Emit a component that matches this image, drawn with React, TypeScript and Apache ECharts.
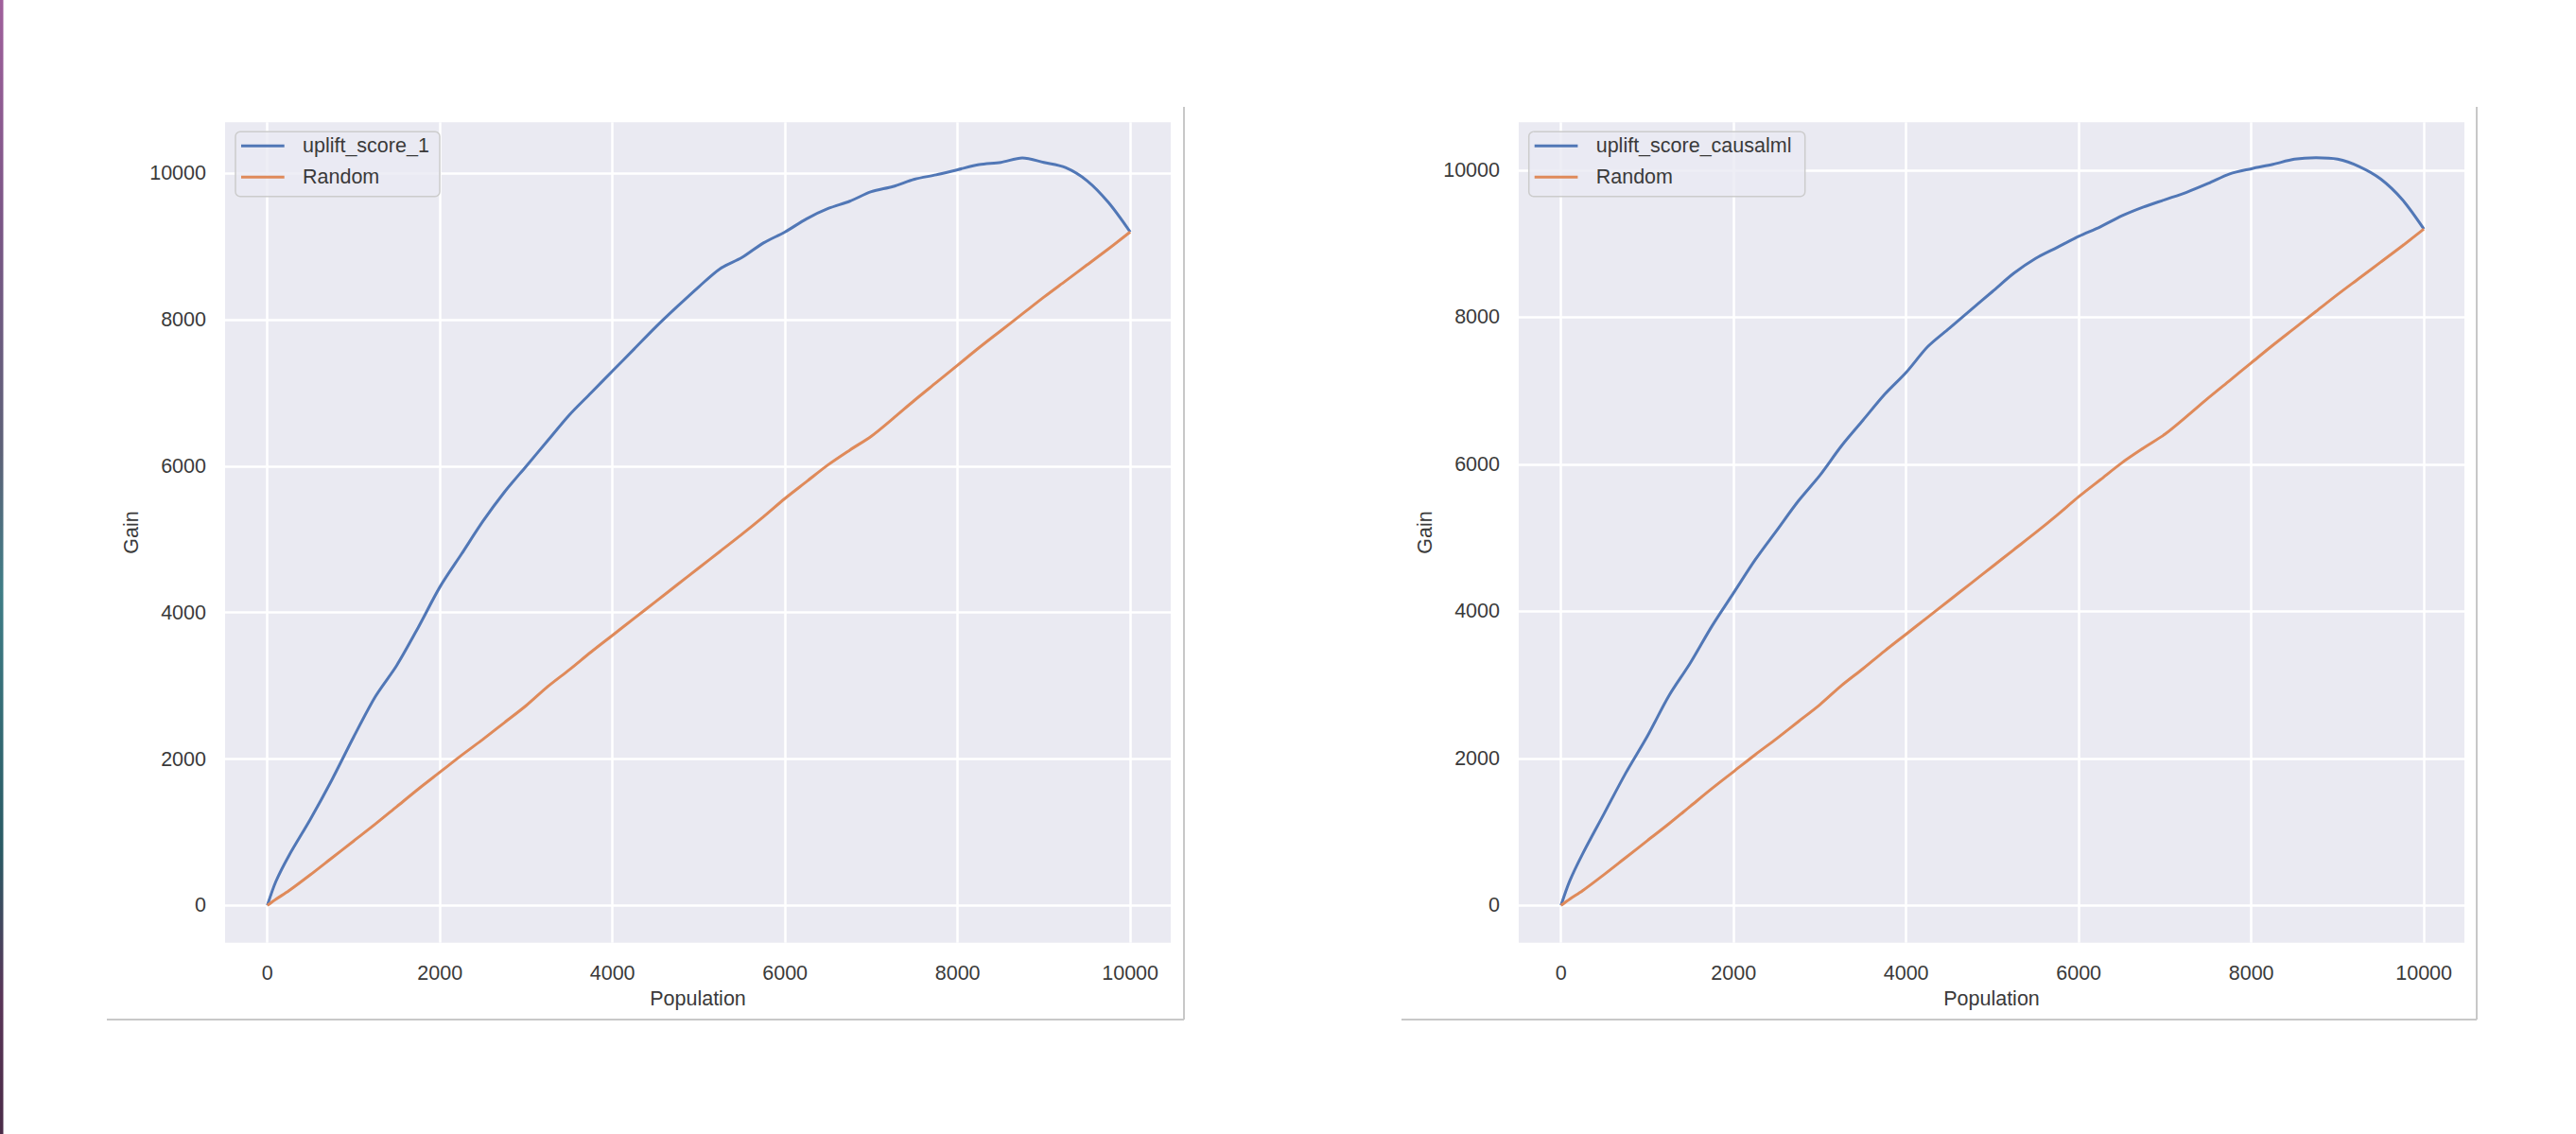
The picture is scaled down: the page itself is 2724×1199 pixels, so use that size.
import React, { useEffect, useRef } from "react";
import * as echarts from "echarts";

const POPULATION = [0, 100, 250, 500, 750, 1000, 1250, 1500, 1750, 2000, 2250, 2500, 2750, 3000, 3250, 3500, 3750, 4000, 4250, 4500, 4750, 5000, 5250, 5500, 5750, 6000, 6250, 6500, 6750, 7000, 7250, 7500, 7750, 8000, 8250, 8500, 8750, 9000, 9250, 9500, 9750, 10000];
const GAIN_UPLIFT_1 = [0, 330, 680, 1180, 1720, 2300, 2850, 3280, 3800, 4350, 4800, 5250, 5650, 6000, 6350, 6700, 7000, 7300, 7600, 7900, 8180, 8450, 8700, 8850, 9050, 9200, 9380, 9520, 9620, 9750, 9820, 9920, 9980, 10050, 10120, 10150, 10210, 10150, 10080, 9900, 9600, 9200];
const GAIN_UPLIFT_CAUSALML = [0, 330, 700, 1250, 1800, 2300, 2850, 3300, 3800, 4250, 4700, 5100, 5500, 5850, 6250, 6600, 6950, 7250, 7600, 7850, 8100, 8350, 8600, 8800, 8950, 9100, 9230, 9380, 9500, 9600, 9700, 9820, 9950, 10020, 10080, 10150, 10170, 10150, 10050, 9880, 9600, 9200];
const GAIN_RANDOM = [0, 85, 200, 420, 650, 880, 1110, 1350, 1590, 1820, 2050, 2270, 2500, 2730, 2990, 3220, 3460, 3690, 3920, 4150, 4380, 4610, 4840, 5070, 5310, 5560, 5790, 6020, 6220, 6410, 6650, 6900, 7140, 7380, 7620, 7850, 8080, 8310, 8530, 8750, 8970, 9200];
const X_TICKS = [0, 2000, 4000, 6000, 8000, 10000];
const Y_TICKS = [0, 2000, 4000, 6000, 8000, 10000];
const SERIES_NAMES_LEFT = ["uplift_score_1", "Random"];
const SERIES_NAMES_RIGHT = ["uplift_score_causalml", "Random"];

const BLUE = "#5177b6";
const ORANGE = "#df8a5a";
const TEXT = "#3a3a3a";
const FONT = "'Liberation Sans', Arial, Helvetica, sans-serif";
const FS = 21.5;

function pairs(xs: number[], ys: number[]) {
  return xs.map((x, i) => [x, ys[i]]);
}

export default function App() {
  const ref = useRef<HTMLDivElement>(null);
  useEffect(() => {
    if (!ref.current) return;
    const chart = echarts.init(ref.current, null, { renderer: "svg" });

    const grids = [
      { left: 238, top: 129.3, width: 1000, height: 867.4, show: true, backgroundColor: "#eaeaf2", borderWidth: 0 },
      { left: 1606, top: 129.3, width: 1000, height: 867.4, show: true, backgroundColor: "#eaeaf2", borderWidth: 0 },
    ];
    const yRanges = [
      [-509, 10698],
      [-507, 10652],
    ];

    const xAxes = [0, 1].map((g) => ({
      type: "value",
      gridIndex: g,
      min: -490,
      max: 10470,
      name: "Population",
      nameLocation: "middle",
      nameGap: 46,
      nameTextStyle: { fontFamily: FONT, fontSize: FS, color: TEXT },
      axisLine: { show: false },
      axisTick: { show: false },
      splitLine: { show: false },
      axisLabel: {
        customValues: X_TICKS,
        formatter: (v: number) => String(v),
        margin: 21,
        fontFamily: FONT,
        fontSize: FS,
        color: TEXT,
      },
    }));
    const yAxes = [0, 1].map((g) => ({
      type: "value",
      gridIndex: g,
      min: yRanges[g][0],
      max: yRanges[g][1],
      name: "Gain",
      nameLocation: "middle",
      nameRotate: 90,
      nameGap: 88,
      nameTextStyle: { fontFamily: FONT, fontSize: FS, color: TEXT },
      axisLine: { show: false },
      axisTick: { show: false },
      splitLine: { show: false },
      axisLabel: {
        customValues: Y_TICKS,
        formatter: (v: number) => String(v),
        margin: 20,
        fontFamily: FONT,
        fontSize: FS,
        color: TEXT,
      },
    }));

    const gridSeries = [0, 1].map((g) => ({
      type: "line",
      name: "grid" + g,
      xAxisIndex: g,
      yAxisIndex: g,
      data: [[0, 0]],
      symbol: "none",
      lineStyle: { opacity: 0 },
      silent: true,
      z: 1,
      markLine: {
        silent: true,
        z: 1,
        symbol: ["none", "none"],
        label: { show: false },
        lineStyle: { color: "#ffffff", width: 2.5, type: "solid" },
        emphasis: { disabled: true },
        data: [
          ...X_TICKS.map((v) => ({ xAxis: v })),
          ...Y_TICKS.map((v) => ({ yAxis: v })),
        ],
      },
    }));

    const mk = (name: string, g: number, ys: number[], color: string) => ({
      type: "line",
      name,
      xAxisIndex: g,
      yAxisIndex: g,
      data: pairs(POPULATION, ys),
      symbol: "none",
      smooth: 0.3,
      lineStyle: { color, width: 3 },
      itemStyle: { color },
      z: 3,
    });

    const legend = (x: number, w: number, names: string[]) => ({
      type: "group",
      children: [
        {
          type: "rect",
          shape: { x, y: 139.3, width: w, height: 68.4, r: 5 },
          style: { fill: "rgba(234,234,242,0.8)", stroke: "#cccccc", lineWidth: 1.5 },
          z: 10,
        },
        {
          type: "line",
          shape: { x1: x + 6, y1: 154.3, x2: x + 51.7, y2: 154.3 },
          style: { stroke: BLUE, lineWidth: 3 },
          z: 11,
        },
        {
          type: "line",
          shape: { x1: x + 6, y1: 187.3, x2: x + 51.7, y2: 187.3 },
          style: { stroke: ORANGE, lineWidth: 3 },
          z: 11,
        },
        {
          type: "text",
          x: x + 71,
          y: 154.3,
          style: { text: names[0], fill: TEXT, font: `${FS}px ${FONT}`, textVerticalAlign: "middle", verticalAlign: "middle" },
          z: 11,
        },
        {
          type: "text",
          x: x + 71,
          y: 187.3,
          style: { text: names[1], fill: TEXT, font: `${FS}px ${FONT}`, textVerticalAlign: "middle", verticalAlign: "middle" },
          z: 11,
        },
      ],
    });

    const frameColor = "#c8c8c8";
    const option = {
      animation: false,
      backgroundColor: "#ffffff",
      grid: grids,
      xAxis: xAxes,
      yAxis: yAxes,
      series: [
        ...gridSeries,
        mk(SERIES_NAMES_LEFT[0], 0, GAIN_UPLIFT_1, BLUE),
        mk(SERIES_NAMES_LEFT[1], 0, GAIN_RANDOM, ORANGE),
        mk(SERIES_NAMES_RIGHT[0], 1, GAIN_UPLIFT_CAUSALML, BLUE),
        mk(SERIES_NAMES_RIGHT[1], 1, GAIN_RANDOM, ORANGE),
      ],
      graphic: [
        {
          type: "rect",
          shape: { x: 0, y: 0, width: 3.5, height: 1199 },
          style: {
            fill: new echarts.graphic.LinearGradient(0, 0, 0, 1, [
              { offset: 0, color: "#a0609c" },
              { offset: 0.2, color: "#7a5686" },
              { offset: 0.4, color: "#5d6278" },
              { offset: 0.52, color: "#3f7d86" },
              { offset: 0.75, color: "#2a5a64" },
              { offset: 0.88, color: "#5a3558" },
              { offset: 1, color: "#4a2c48" },
            ]),
          },
        },
        { type: "line", shape: { x1: 113, y1: 1078, x2: 1252, y2: 1078 }, style: { stroke: frameColor, lineWidth: 2 } },
        { type: "line", shape: { x1: 1252, y1: 113, x2: 1252, y2: 1078 }, style: { stroke: frameColor, lineWidth: 2 } },
        { type: "line", shape: { x1: 1482, y1: 1078, x2: 2619, y2: 1078 }, style: { stroke: frameColor, lineWidth: 2 } },
        { type: "line", shape: { x1: 2619, y1: 113, x2: 2619, y2: 1078 }, style: { stroke: frameColor, lineWidth: 2 } },
        legend(249, 216, SERIES_NAMES_LEFT),
        legend(1616.7, 292, SERIES_NAMES_RIGHT),
      ],
    };
    chart.setOption(option as any);
    return () => chart.dispose();
  }, []);
  return (
    <div
      ref={ref}
      style={{ position: "fixed", left: 0, top: 0, width: "2724px", height: "1199px", background: "#fff" }}
    />
  );
}
